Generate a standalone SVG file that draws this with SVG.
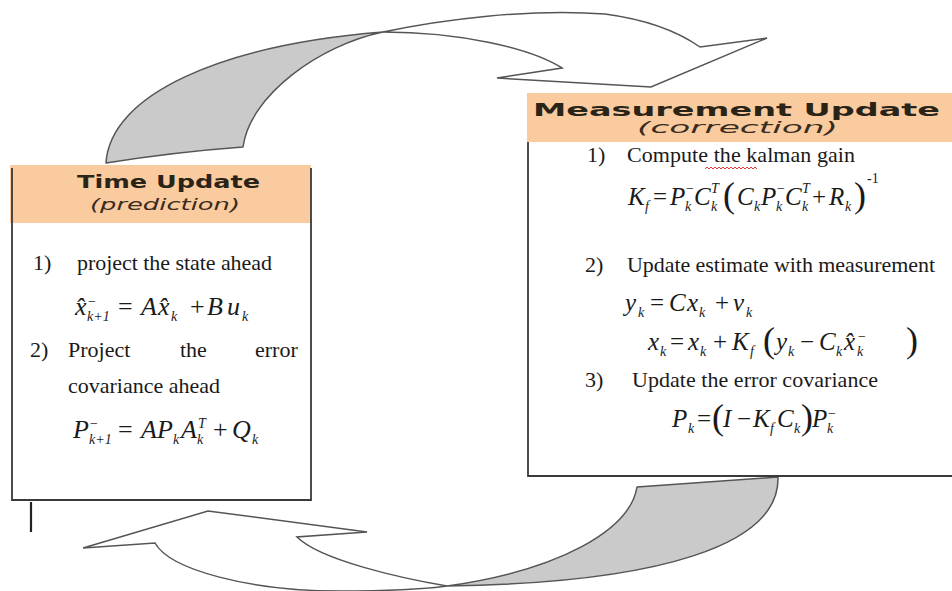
<svg xmlns="http://www.w3.org/2000/svg" width="952" height="591" viewBox="0 0 952 591">
<style>
.gray{fill:#cacaca;stroke:#555;stroke-width:1.5;stroke-linejoin:round}
.white{fill:#fff;stroke:#555;stroke-width:1.5;stroke-linejoin:miter}
.hdr{fill:#f9cb9f}
.border{fill:none;stroke:#3a3a3a;stroke-width:1.8}
.title{font-family:"DejaVu Sans",sans-serif;font-weight:bold;fill:#2a2418}
.subt{font-family:"DejaVu Sans",sans-serif;font-style:italic;fill:#3a2c1e}
.t{font-family:"Liberation Serif",serif;font-size:22px;fill:#1a1a1a}
.m{font-family:"Liberation Serif",serif;font-style:italic;font-size:25px;fill:#1a1a1a}
.m1{font-size:26px}
.n{font-style:normal}
.s{font-size:14px}
.p{font-style:normal;font-size:36px}
</style>
<g id="connectors">
  <path class="gray" d="M106,163 C110,95 220,45 383,32 C320,45 250,95 243,147 Q175,152 106,163 Z"/>
  <path class="white" d="M383,32 C440,20 530,8 605,14 C650,20 680,33 700,47 L767,38 L651,87 L497,78 L562,68 C530,48 460,32 383,32 Z"/>
  <path class="gray" d="M637,487 L778,477 C780,545 660,583 447,586 C560,570 630,530 637,487 Z"/>
  <path class="white" d="M447,586 C400,578 320,560 297,537 L367,532 L208,511 L83,548 L155,543 C170,570 250,591 340,591 C390,591 425,589 447,586 Z"/>
</g>
<g id="time-update">
  <rect x="12" y="166" width="299" height="334" fill="#fff"/>
  <rect class="hdr" x="10" y="165" width="301" height="58"/>
  <path class="border" d="M12,168 V500 H311 V168"/>
  <text class="title" x="77" y="188" font-size="18" textLength="183" lengthAdjust="spacingAndGlyphs">Time Update</text>
  <text class="subt" x="90" y="210" font-size="15" textLength="150" lengthAdjust="spacingAndGlyphs">(prediction)</text>
  <text class="t" x="33" y="270">1)</text>
  <text class="t" x="77" y="270" textLength="195" lengthAdjust="spacing">project the state ahead</text>
  <text class="m m1"><tspan x="75" y="315">x̂</tspan><tspan class="n s" x="88" y="306">−</tspan><tspan class="s" x="87" y="321">k+1</tspan><tspan class="n" x="118" y="315">=</tspan><tspan x="141" y="315">A</tspan><tspan x="158" y="315">x̂</tspan><tspan class="s" x="171" y="321">k</tspan><tspan class="n" x="190" y="315">+</tspan><tspan x="207" y="315">B</tspan><tspan x="227" y="315">u</tspan><tspan class="s" x="242" y="321">k</tspan></text>
  <text class="t" x="30" y="357">2)</text>
  <text class="t" x="68" y="357">Project</text>
  <text class="t" x="180" y="357">the</text>
  <text class="t" x="255" y="357">error</text>
  <text class="t" x="68" y="393" textLength="152" lengthAdjust="spacing">covariance ahead</text>
  <text class="m m1"><tspan x="73" y="438">P</tspan><tspan class="n s" x="90" y="428">−</tspan><tspan class="s" x="89" y="444">k+1</tspan><tspan class="n" x="118" y="438">=</tspan><tspan x="141" y="438">A</tspan><tspan x="157" y="438">P</tspan><tspan class="s" x="173" y="444">k</tspan><tspan x="181" y="438">A</tspan><tspan class="s" x="198" y="428">T</tspan><tspan class="s" x="197" y="444">k</tspan><tspan class="n" x="213" y="438">+</tspan><tspan x="232" y="438">Q</tspan><tspan class="s" x="252" y="444">k</tspan></text>
</g>
<line x1="31" y1="502" x2="31" y2="532" stroke="#222" stroke-width="2.2"/>
<g id="measurement-update">
  <rect x="528" y="142" width="424" height="334" fill="#fff"/>
  <rect class="hdr" x="527" y="93" width="425" height="49"/>
  <path class="border" d="M528,142 V476 H952"/>
  <text class="title" x="533" y="116" font-size="17" textLength="407" lengthAdjust="spacingAndGlyphs">Measurement Update</text>
  <text class="subt" x="637" y="133" font-size="15" textLength="201" lengthAdjust="spacingAndGlyphs">(correction)</text>
  <text class="t" x="587" y="162">1)</text>
  <text class="t" x="627" y="162" textLength="228" lengthAdjust="spacing">Compute the kalman gain</text>
  <path d="M705,169 l2,-2 l2,2 l2,-2 l2,2 l2,-2 l2,2 l2,-2 l2,2 l2,-2 l2,2 l2,-2 l2,2 l2,-2 l2,2 l2,-2 l2,2 l2,-2 l2,2 l2,-2 l2,2 l2,-2 l2,2 l2,-2 l2,2 l2,-2 l2,2" fill="none" stroke="#e03a3a" stroke-width="1"/>
  <text class="m"><tspan x="628" y="205">K</tspan><tspan class="s" x="645" y="211">f</tspan><tspan class="n" x="653" y="205">=</tspan><tspan x="670" y="205">P</tspan><tspan class="n s" x="686" y="193">−</tspan><tspan class="s" x="685" y="211">k</tspan><tspan x="694" y="205">C</tspan><tspan class="s" x="711" y="193">T</tspan><tspan class="s" x="711" y="211">k</tspan><tspan class="p" x="723" y="207">(</tspan><tspan x="737" y="205">C</tspan><tspan class="s" x="754" y="211">k</tspan><tspan x="761" y="205">P</tspan><tspan class="n s" x="777" y="193">−</tspan><tspan class="s" x="776" y="211">k</tspan><tspan x="785" y="205">C</tspan><tspan class="s" x="802" y="193">T</tspan><tspan class="s" x="802" y="211">k</tspan><tspan class="n" x="812" y="205">+</tspan><tspan x="829" y="205">R</tspan><tspan class="s" x="845" y="211">k</tspan><tspan class="p" x="854" y="207">)</tspan><tspan class="n s" x="867" y="183">-1</tspan></text>
  <text class="t" x="585" y="272">2)</text>
  <text class="t" x="627" y="272" textLength="308" lengthAdjust="spacing">Update estimate with measurement</text>
  <text class="m"><tspan x="625" y="311">y</tspan><tspan class="s" x="638" y="317">k</tspan><tspan class="n" x="650" y="311">=</tspan><tspan x="669" y="311">C</tspan><tspan x="687" y="311">x</tspan><tspan class="s" x="699" y="317">k</tspan><tspan class="n" x="715" y="311">+</tspan><tspan x="733" y="311">v</tspan><tspan class="s" x="746" y="317">k</tspan></text>
  <text class="m"><tspan x="648" y="350">x</tspan><tspan class="s" x="660" y="356">k</tspan><tspan class="n" x="670" y="350">=</tspan><tspan x="688" y="350">x</tspan><tspan class="s" x="700" y="356">k</tspan><tspan class="n" x="713" y="350">+</tspan><tspan x="732" y="350">K</tspan><tspan class="s" x="750" y="356">f</tspan><tspan class="p" x="763" y="352">(</tspan><tspan x="776" y="350">y</tspan><tspan class="s" x="788" y="356">k</tspan><tspan class="n" x="800" y="350">−</tspan><tspan x="819" y="350">C</tspan><tspan class="s" x="836" y="356">k</tspan><tspan x="844" y="350">x̂</tspan><tspan class="n s" x="858" y="341">−</tspan><tspan class="s" x="857" y="356">k</tspan><tspan class="p" x="906" y="352">)</tspan></text>
  <text class="t" x="585" y="387">3)</text>
  <text class="t" x="632" y="387" textLength="246" lengthAdjust="spacing">Update the error covariance</text>
  <text class="m"><tspan x="672" y="427">P</tspan><tspan class="s" x="688" y="433">k</tspan><tspan class="n" x="697" y="427">=</tspan><tspan class="p" x="712" y="429">(</tspan><tspan x="723" y="427">I</tspan><tspan class="n" x="737" y="427">−</tspan><tspan x="753" y="427">K</tspan><tspan class="s" x="770" y="433">f</tspan><tspan x="777" y="427">C</tspan><tspan class="s" x="794" y="433">k</tspan><tspan class="p" x="801" y="429">)</tspan><tspan x="812" y="427">P</tspan><tspan class="n s" x="828" y="418">−</tspan><tspan class="s" x="827" y="433">k</tspan></text>
</g>
</svg>
